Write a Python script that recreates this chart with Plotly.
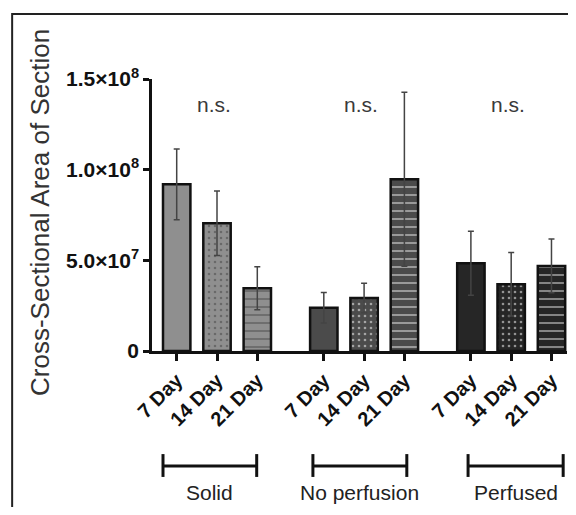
import plotly.graph_objects as go

groups = ["Solid", "No perfusion", "Perfused"]
days = ["7 Day", "14 Day", "21 Day"]
values = [0.919e8, 0.704e8, 0.346e8,
          0.239e8, 0.292e8, 0.947e8,
          0.484e8, 0.368e8, 0.469e8]
errors = [0.195e8, 0.178e8, 0.118e8,
          0.084e8, 0.081e8, 0.48e8,
          0.176e8, 0.175e8, 0.148e8]
group_colors = ["#8f8f8f", "#4b4b4b", "#262626"]
pattern_colors = [["#8f8f8f", "#c8c8c8", "#5a5a5a"],
                  ["#4b4b4b", "#545454", "#b0b0b0"],
                  ["#262626", "#7a7a7a", "#a0a0a0"]]
day_patterns = ["", ".", "-"]
sig_labels = ["n.s.", "n.s.", "n.s."]
ytick_vals = [0, 5e7, 1e8, 1.5e8]
ytick_text = ["0", "5.0×10<sup>7</sup>", "1.0×10<sup>8</sup>", "1.5×10<sup>8</sup>"]

GAP = 3.65
xpos, labels, colors, shapes_p, fg, psize, psol = [], [], [], [], [], [], []
for gi, g in enumerate(groups):
    for di, d in enumerate(days):
        xpos.append(gi * GAP + di)
        labels.append(d)
        colors.append(group_colors[gi])
        shapes_p.append(day_patterns[di])
        fg.append(pattern_colors[gi][di])
        psize.append(6 if di == 1 else 8)
        psol.append(0.15 if di == 1 else 0.22)

fig = go.Figure()
fig.add_trace(go.Bar(
    x=xpos, y=values, width=0.68,
    marker=dict(color=colors, line=dict(color="#111111", width=2.5),
                pattern=dict(shape=shapes_p, fgcolor=fg, size=psize, solidity=psol)),
    error_y=dict(type="data", array=errors, visible=True, color="#444444",
                 thickness=1.5, width=3),
    showlegend=False,
))

font_fam = "Arial, Liberation Sans, sans-serif"
annotations = []
shapes = []
bl = [-0.34, 3.38, 7.23]
br = [1.985, 5.71, 9.59]
for gi, g in enumerate(groups):
    center = gi * GAP + 1
    annotations.append(dict(x=center - 0.08, y=1.357e8, xref="x", yref="y", text=sig_labels[gi],
                            showarrow=False, font=dict(size=21, color="#3a3a3a", family=font_fam)))
    l, r = bl[gi], br[gi]
    shapes.append(dict(type="line", xref="x", yref="paper", x0=l, x1=r, y0=-0.423, y1=-0.423,
                       line=dict(color="#111", width=3)))
    for xx in (l, r):
        shapes.append(dict(type="line", xref="x", yref="paper", x0=xx, x1=xx, y0=-0.379, y1=-0.463,
                           line=dict(color="#111", width=3)))
    annotations.append(dict(x=(l + r) / 2, y=-0.522, xref="x", yref="paper", text=g,
                            xanchor="center", yanchor="middle", borderpad=0,
                            showarrow=False, font=dict(size=21, color="#222", family=font_fam)))

annotations.append(dict(x=-0.27, y=0.511, xref="paper", yref="paper",
                        xanchor="center", yanchor="middle",
                        text="Cross-Sectional Area of Section", textangle=-90, showarrow=False,
                        font=dict(size=26, color="#333", family=font_fam)))
shapes.append(dict(type="rect", xref="paper", yref="paper", x0=-0.337, x1=1.3, y0=-1.2, y1=1.239,
                   line=dict(color="#222", width=2)))

fig.update_layout(
    width=560, height=499,
    margin=dict(l=144, r=1, t=71, b=156),
    paper_bgcolor="white", plot_bgcolor="white",
    font=dict(family=font_fam, color="#111"),
    annotations=annotations, shapes=shapes,
    xaxis=dict(range=[-0.613, 9.685], tickvals=xpos, ticktext=labels, tickangle=-45,
               showline=True, linecolor="#111", linewidth=2.5, ticks="outside", ticklen=7,
               tickwidth=2.5, tickcolor="#111", showgrid=False, zeroline=False,
               tickfont=dict(size=20, weight="bold", color="#111", family=font_fam)),
    yaxis=dict(range=[0, 1.5e8], tickvals=ytick_vals, ticktext=ytick_text,
               showline=True, linecolor="#111", linewidth=2.5, ticks="outside", ticklen=6,
               tickwidth=2.5, tickcolor="#111", showgrid=False, zeroline=False,
               tickfont=dict(size=21, weight="bold", color="#111", family=font_fam)),
)

fig.write_html("out.html")
